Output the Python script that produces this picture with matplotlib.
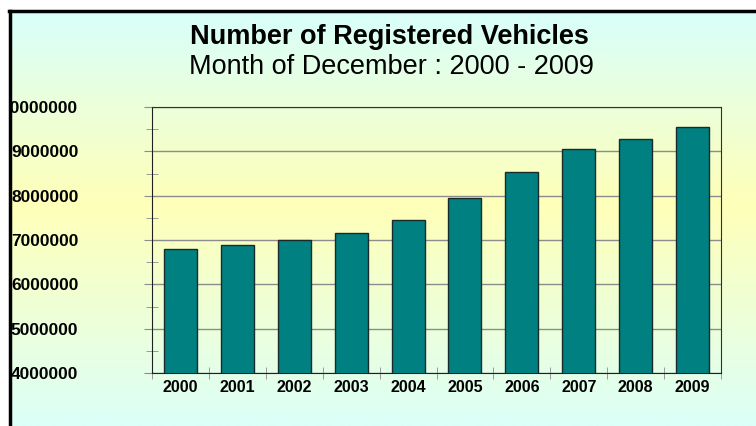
import numpy as np
import matplotlib.pyplot as plt
from matplotlib.colors import LinearSegmentedColormap
from matplotlib.patches import Rectangle
from matplotlib.ticker import MultipleLocator

# data
years = ["2000", "2001", "2002", "2003", "2004", "2005", "2006", "2007", "2008", "2009"]
vehicles = [6790000, 6880000, 7000000, 7160000, 7450000, 7950000, 8530000, 9050000, 9280000, 9560000]
y_ticks = [4000000, 5000000, 6000000, 7000000, 8000000, 9000000, 10000000]

title = "Number of Registered Vehicles"
subtitle = "Month of December : 2000 - 2009"

plt.rcParams['font.family'] = ['Liberation Sans', 'DejaVu Sans']

W, H = 756, 426
fig = plt.figure(figsize=(W / 100, H / 100), dpi=100)
fig.patch.set_facecolor("white")

# background gradient (cyan -> pale yellow -> cyan)
bg = fig.add_axes([0, 0, 1, 1], zorder=0)
bg.set_axis_off()
grad = LinearSegmentedColormap.from_list(
    "bg", [(0.0, "#d6ffff"), (0.48, "#ffffb8"), (1.0, "#dcfff8")])
bg.imshow(np.linspace(0, 1, 256).reshape(-1, 1), aspect="auto", cmap=grad,
          extent=[0, 1, 0, 1], origin="upper")
bg.set_xlim(0, 1)
bg.set_ylim(0, 1)

ax = fig.add_axes([152 / W, 1 - 373 / H, (721 - 152) / W, (373 - 107) / H], zorder=1)
ax.patch.set_alpha(0)

x = np.arange(len(years))
ax.bar(x, vehicles, width=0.58, color="#008080", edgecolor="#1a2a2a", linewidth=1.0, zorder=3)

ax.set_xlim(-0.5, len(years) - 0.5)
ax.set_ylim(y_ticks[0], y_ticks[-1])
ax.set_yticks(y_ticks)
ax.set_yticklabels([str(v) for v in y_ticks])
ax.yaxis.set_minor_locator(MultipleLocator(500000))
ax.grid(axis="y", color="#8c8c8c", linewidth=1.0, zorder=1)

ax.set_xticks(x)
ax.set_xticklabels(years)
ax.set_xticks(np.arange(-0.5, len(years)), minor=True)

for lab in ax.get_yticklabels() + ax.get_xticklabels():
    lab.set_fontweight("bold")
ax.tick_params(axis="y", which="major", direction="out", length=6, color="#8c8c8c",
               pad=47, labelsize=12.5)
ax.tick_params(axis="y", which="minor", direction="inout", length=9, color="#8c8c8c")
ax.tick_params(axis="x", which="major", length=0, pad=5, labelsize=11.5)
ax.tick_params(axis="x", which="minor", direction="inout", length=8, color="#8c8c8c")

for side in ["left", "bottom"]:
    ax.spines[side].set_color("#202020")
for side in ["top", "right"]:
    ax.spines[side].set_color("#303030")

fig.text(389 / W, 1 - 37 / H, title, ha="center", va="center",
         fontsize=19.5, fontweight="bold")
fig.text(391 / W, 1 - 67 / H, subtitle, ha="center", va="center", fontsize=19.5)

# outer frame: white margin with black edge at top/left, clipping the labels
fig.patches.append(Rectangle((0, 0), 8.5 / W, 1, transform=fig.transFigure,
                             facecolor="white", edgecolor="none", zorder=5))
fig.patches.append(Rectangle((0, 1 - 10 / H), 1, 10 / H, transform=fig.transFigure,
                             facecolor="white", edgecolor="none", zorder=5))
fig.lines.append(plt.Line2D([9.5 / W, 9.5 / W], [0, 1 - 11 / H], transform=fig.transFigure,
                            color="black", linewidth=2.5, zorder=6))
fig.lines.append(plt.Line2D([8.5 / W, 1], [1 - 11 / H, 1 - 11 / H], transform=fig.transFigure,
                            color="black", linewidth=2.5, zorder=6))

fig.savefig("out.png", dpi=100)
